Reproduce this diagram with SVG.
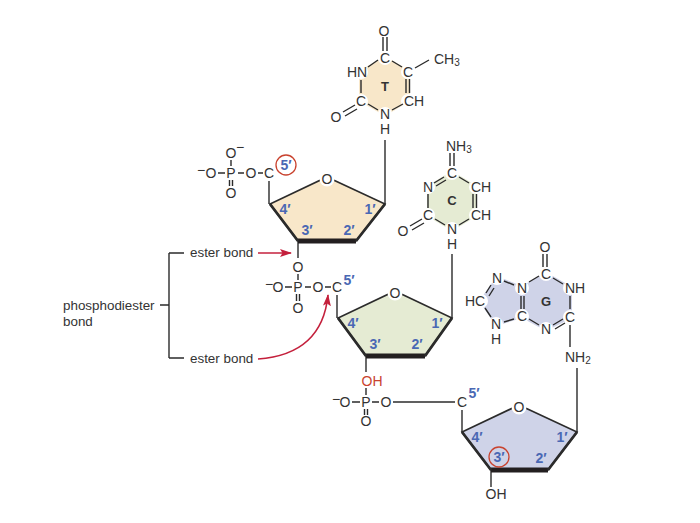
<svg xmlns="http://www.w3.org/2000/svg" width="700" height="523" viewBox="0 0 700 523">
<defs>
<marker id="ah" viewBox="0 0 12 8" refX="11" refY="4" markerWidth="12" markerHeight="8" markerUnits="userSpaceOnUse" orient="auto"><path d="M0 0L12 4L0 8L2.500 4Z" fill="#c4203c"/></marker>
</defs>
<style>
text{font-family:"Liberation Sans",Arial,sans-serif;font-size:14px;fill:#333;text-anchor:middle;dominant-baseline:central}
.st{text-anchor:start}
.lab{font-size:13.400px}
.b{fill:#4a68b4;font-weight:bold;font-size:14px}
.base{font-weight:bold;font-size:13px}
.r{fill:#c9432f}
.sub{font-size:10px}
.l{stroke:#2b2b2b;stroke-width:1.4;fill:none}
.hv{stroke:#231f20;stroke-width:5;fill:none}
.s{stroke:#2b2b2b;stroke-width:1.7;stroke-linejoin:miter}
.e{stroke:#2b2b2b;stroke-width:2.800;fill:none}
.hal{fill:#fff}
.c{fill:none;stroke:#c9432f;stroke-width:1.300}
.red{stroke:#c4203c;stroke-width:1.600;fill:none}
</style>
<rect width="700" height="523" fill="#fff"/>

<g id="connectors">
<path class="l" d="M385 140V204M452 254V318M577 368V432"/>
<path class="l" d="M298 241V258M366 356V372M491 470V487"/>
<path class="l" d="M393 402H455"/>
<path class="l" d="M269 181V204M337 295V318M462 410V432"/>
<path class="l" d="M169 253V358M169 253H184M169 358H184M160 305H169"/>
<path class="red" d="M258 253H291" marker-end="url(#ah)"/>
<path class="red" d="M258 359C300 356 324 335 328 295" marker-end="url(#ah)"/>
</g>

<g id="sugar-1">
<path d="M327 177L385 204L356 241H298L270 204Z" fill="#f8e7c9" class="s"/>
<path class="hv" d="M298 241H356"/>
<path class="e" d="M270 204L298 241M385 204L356 241"/>
<circle class="hal" cx="327" cy="179" r="7.500"/><text x="327" y="179">O</text>
<text class="b" x="285" y="209">4′</text><text class="b" x="370" y="209">1′</text><text class="b" x="307" y="230">3′</text><text class="b" x="349" y="230">2′</text>
</g>
<g id="sugar-2">
<path d="M395 291L452 318L425 356H366L338 318Z" fill="#e5ebd3" class="s"/>
<path class="hv" d="M366 356H425"/>
<path class="e" d="M338 318L366 356M452 318L425 356"/>
<circle class="hal" cx="395" cy="293" r="7.500"/><text x="395" y="293">O</text>
<text class="b" x="353" y="323">4′</text><text class="b" x="437" y="323">1′</text><text class="b" x="375" y="344">3′</text><text class="b" x="417" y="344">2′</text>
</g>
<g id="sugar-3">
<path d="M519 405L577 432L548 470H491L462 432Z" fill="#cfd3e8" class="s"/>
<path class="hv" d="M491 470H548"/>
<path class="e" d="M462 432L491 470M577 432L548 470"/>
<circle class="hal" cx="519" cy="407" r="7.500"/><text x="519" y="407">O</text>
<text class="b" x="477" y="437">4′</text><text class="b" x="562" y="437">1′</text><text class="b" x="499" y="457">3′</text><text class="b" x="541" y="458">2′</text>
<circle class="c" cx="499" cy="457" r="10"/>
</g>

<g id="thymine">
<path d="M385 56L410 71V101L385 116L359 101V71Z" fill="#f8e7c9"/>
<g class="hal"><circle cx="385" cy="58" r="7"/><circle cx="408" cy="72" r="7"/><circle cx="408" cy="101" r="7"/><circle cx="385" cy="114" r="7"/><circle cx="361" cy="101" r="7"/><circle cx="361" cy="72" r="7"/></g>
<path class="l" d="M383 37V51M387 37V51M392 61L402 67M406 79V93M409.500 79V93M415 68L429 60M368 67L378 60M361 80V93M368 104L378 110M392 110L403 104M343 112L355 105M345 116L357 109"/>
<text x="384" y="31">O</text><text x="385" y="58">C</text><text x="408" y="72">C</text><text class="st" x="404" y="101">CH</text>
<text x="385" y="114">N</text><text x="385" y="129">H</text><text x="361" y="101">C</text><text x="357" y="72">HN</text><text x="336" y="117">O</text>
<text class="st" x="434" y="59">CH<tspan class="sub" dy="3">3</tspan></text>
<text class="base" x="385" y="86">T</text>
</g>

<g id="cytosine">
<path d="M452 171L477 186V216L452 231L427 216V186Z" fill="#e5ebd3"/>
<g class="hal"><circle cx="452" cy="173" r="7"/><circle cx="476" cy="187" r="7"/><circle cx="476" cy="215" r="7"/><circle cx="452" cy="229" r="7"/><circle cx="428" cy="215" r="7"/><circle cx="428" cy="187" r="7"/></g>
<path class="l" d="M450 153V166M454 153V166M459 177L469 183M473 194V208M476.500 194V208M434 183L444 177M436 186L446 180M428 194V208M435 219L445 225M459 225L469 219M410 226L422 219M412 230L424 223"/>
<text class="st" x="446" y="146">NH<tspan class="sub" dy="3">3</tspan></text>
<text x="452" y="173">C</text><text class="st" x="471" y="187">CH</text><text class="st" x="471" y="215">CH</text>
<text x="452" y="229">N</text><text x="452" y="244">H</text><text x="428" y="215">C</text><text x="428" y="187">N</text><text x="403" y="231">O</text>
<text class="base" x="452" y="200">C</text>
</g>

<g id="guanine">
<path d="M546 272L572 287V318L546 331L522 318L496 326L479 301L497 276L522 286Z" fill="#cfd3e8"/>
<g class="hal"><circle cx="546" cy="274" r="7"/><circle cx="570" cy="288" r="7"/><circle cx="570" cy="317" r="7"/><circle cx="546" cy="329" r="7"/><circle cx="522" cy="316" r="7"/><circle cx="522" cy="288" r="7"/><circle cx="497" cy="278" r="7"/><circle cx="481" cy="301" r="7"/><circle cx="496" cy="324" r="7"/></g>
<path class="l" d="M543 254V267M547 254V267M553 278L563 284M570 296V309M553 325L563 319M555 329L565 323M539 325L529 319M529 282L539 276M521 296V309M524 296V309M504 281L514 285M486 293L491 285M489 296L494 288M485 308L491 317M504 322L514 319M570 325V347"/>
<text x="545" y="247">O</text><text x="546" y="274">C</text><text class="st" x="565" y="288">NH</text><text x="570" y="317">C</text><text x="546" y="329">N</text>
<text x="522" y="316">C</text><text x="522" y="288">N</text><text x="497" y="278">N</text><text x="475" y="301">HC</text><text x="496" y="324">N</text><text x="496" y="339">H</text>
<text class="base" x="546" y="301">G</text>
<text class="st" x="565" y="357">NH<tspan class="sub" dy="3">2</tspan></text>
</g>

<g id="phosphate-1">
<path class="l" d="M231 160V166M218 173H225M238 173H244M258 173H263M229.500 180V186M232.500 180V186"/>
<text x="231" y="153">O</text><text x="231" y="173">P</text><text x="211" y="173">O</text><text x="251" y="173">O</text><text x="269" y="173">C</text><text x="231" y="193">O</text>
<text x="201" y="170">−</text><text x="240" y="147">−</text>
<text class="b" x="286" y="165">5′</text><circle class="c" cx="286" cy="165" r="10"/>
</g>
<g id="phosphate-2">
<path class="l" d="M298 274V280M285 287H292M305 287H311M325 287H331M296.500 294V301M299.500 294V301"/>
<text x="298" y="267">O</text><text x="298" y="287">P</text><text x="278" y="287">O</text><text x="318" y="287">O</text><text x="337" y="287">C</text><text x="298" y="308">O</text>
<text x="269" y="284">−</text>
<text class="b" x="349" y="280">5′</text>
</g>
<g id="phosphate-3">
<path class="l" d="M366 388V395M352 402H360M372 402H379M364.500 409V415M367.500 409V415"/>
<text class="r" x="372" y="381">OH</text>
<text x="366" y="402">P</text><text x="345" y="402">O</text><text x="386" y="402">O</text><text x="462" y="402">C</text><text x="366" y="421">O</text>
<text x="336" y="399">−</text>
<text class="b" x="474" y="393">5′</text>
<text x="496" y="494">OH</text>
</g>

<g id="labels">
<text class="st lab" x="63" y="305">phosphodiester</text>
<text class="st lab" x="63" y="321">bond</text>
<text class="st lab" x="190" y="252">ester bond</text>
<text class="st lab" x="190" y="358">ester bond</text>
</g>
</svg>
